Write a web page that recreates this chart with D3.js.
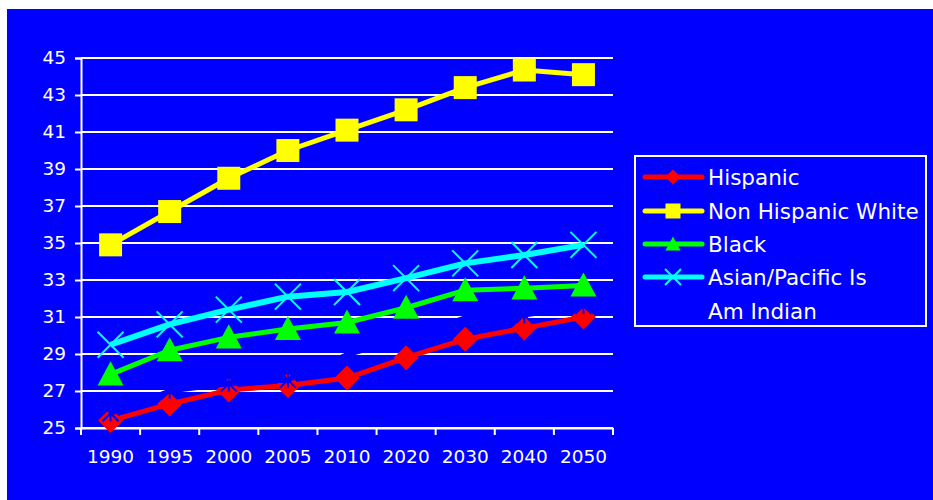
<!DOCTYPE html>
<html><head><meta charset="utf-8">
<script src="https://cdn.jsdelivr.net/npm/d3@7"></script>
<style>html,body{margin:0;padding:0;background:#fff;}svg{display:block;}</style>
</head><body>
<svg id="c" width="933" height="500"></svg>
<script>
const years = ["1990","1995","2000","2005","2010","2020","2030","2040","2050"];
const hispanic = [25.4, 26.3, 27.05, 27.3, 27.7, 28.8, 29.8, 30.4, 31.0];
const nonHispanicWhite = [34.9, 36.7, 38.5, 40.0, 41.1, 42.2, 43.4, 44.35, 44.1];
const black = [27.9, 29.2, 29.9, 30.35, 30.7, 31.5, 32.45, 32.55, 32.7];
const asianPacific = [29.5, 30.6, 31.4, 32.1, 32.35, 33.1, 33.9, 34.35, 34.9];
const amIndian = [25.8, 27.0, 27.4, 27.6, 28.95, 29.9, 30.95, 31.1, 31.6];
const yTicks = [25, 27, 29, 31, 33, 35, 37, 39, 41, 43, 45];
const seriesNames = ["Hispanic", "Non Hispanic White", "Black", "Asian/Pacific Is", "Am Indian"];

(function () {
const BG = "#0000FF";
const series = [
  {name: seriesNames[0], values: hispanic, color: "#FF0000", marker: "diamond", width: 5},
  {name: seriesNames[1], values: nonHispanicWhite, color: "#FFFF00", marker: "square", width: 5},
  {name: seriesNames[2], values: black, color: "#00FF00", marker: "triangle", width: 5},
  {name: seriesNames[3], values: asianPacific, color: "#00FFFF", marker: "x", width: 6},
  {name: seriesNames[4], values: amIndian, color: BG, marker: "star", width: 5}
];

const svg = d3.select("#c");
svg.append("rect").attr("x", 7).attr("y", 9).attr("width", 926).attr("height", 491).attr("fill", BG);

const pL = 81, pR = 613, pT = 58, pB = 428;
const x = d3.scaleBand().domain(years).range([pL, pR]);
const y = d3.scaleLinear().domain([25, 45]).range([pB, pT]);

const font = "'DejaVu Sans', Verdana, sans-serif";

svg.append("g").selectAll("line").data(yTicks).join("line")
  .attr("x1", pL).attr("x2", pR)
  .attr("y1", d => y(d)).attr("y2", d => y(d))
  .attr("stroke", "#fff").attr("stroke-width", 2);

const yAxis = svg.append("g").attr("transform", `translate(${pL},0)`)
  .call(d3.axisLeft(y).tickValues(yTicks).tickSize(6).tickPadding(9).tickFormat(d3.format("d")));
yAxis.select(".domain").attr("stroke", "#fff").attr("stroke-width", 2);
yAxis.selectAll(".tick line").attr("stroke", "#fff").attr("stroke-width", 2);
yAxis.selectAll("text").attr("fill", "#fff").style("font-family", font).style("font-size", "18.5px");

const xAxis = svg.append("g").attr("transform", `translate(0,${pB})`)
  .call(d3.axisBottom(x).tickSize(0).tickPadding(22));
xAxis.select(".domain").attr("stroke", "#fff").attr("stroke-width", 2);
xAxis.selectAll("text").attr("fill", "#fff").style("font-family", font).style("font-size", "18.5px");
const bounds = years.map(d => x(d)).concat([pR]);
xAxis.append("g").selectAll("line").data(bounds).join("line")
  .attr("x1", d => d).attr("x2", d => d).attr("y1", 0).attr("y2", 7)
  .attr("stroke", "#fff").attr("stroke-width", 2);

function markerPath(type, s) {
  const h = s / 2;
  switch (type) {
    case "diamond": return `M0,${-h}L${h},0L0,${h}L${-h},0Z`;
    case "square": return `M${-h},${-h}H${h}V${h}H${-h}Z`;
    case "triangle": return `M0,${-h}L${h},${h * 0.85}L${-h},${h * 0.85}Z`;
    case "x": return `M${-h},${-h}L${h},${h}M${h},${-h}L${-h},${h}`;
    case "star": return `M${-h},${-h}L${h},${h}M${h},${-h}L${-h},${h}M0,${-h}L0,${h}`;
  }
}
function drawMarker(g, type, color, s) {
  const p = g.append("path").attr("d", markerPath(type, s));
  if (type === "x" || type === "star") p.attr("fill", "none").attr("stroke", color).attr("stroke-width", 2);
  else p.attr("fill", color);
}
const markerSize = {diamond: 25, square: 23, triangle: 26, x: 26, star: 16};

const cx = d => x(d) + x.bandwidth() / 2;
const line = d3.line().x((d, i) => cx(years[i])).y(d => y(d));

series.forEach(s => {
  const g = svg.append("g");
  g.append("path").attr("d", line(s.values)).attr("fill", "none")
    .attr("stroke", s.color).attr("stroke-width", s.width).attr("stroke-linejoin", "round");
  s.values.forEach((v, i) => {
    const mg = g.append("g").attr("transform", `translate(${cx(years[i])},${y(v)})`);
    drawMarker(mg, s.marker, s.color, markerSize[s.marker]);
  });
});

const lg = svg.append("g");
lg.append("rect").attr("x", 635).attr("y", 156).attr("width", 291).attr("height", 170)
  .attr("fill", BG).attr("stroke", "#fff").attr("stroke-width", 2);
const rowY = [177, 211, 244, 277, 311];
series.forEach((s, i) => {
  const ry = rowY[i];
  if (s.color !== BG) {
    lg.append("line").attr("x1", 645).attr("x2", 702).attr("y1", ry).attr("y2", ry)
      .attr("stroke", s.color).attr("stroke-width", 5).attr("stroke-linecap", "round");
    const mg = lg.append("g").attr("transform", `translate(673,${ry})`);
    drawMarker(mg, s.marker, s.color, s.marker === "x" ? 16 : 15);
  }
  lg.append("text").attr("x", 708).attr("y", ry).attr("dy", "0.36em")
    .attr("fill", "#fff").style("font-family", font).style("font-size", "21.5px").text(s.name);
});
})();
</script>
</body></html>
